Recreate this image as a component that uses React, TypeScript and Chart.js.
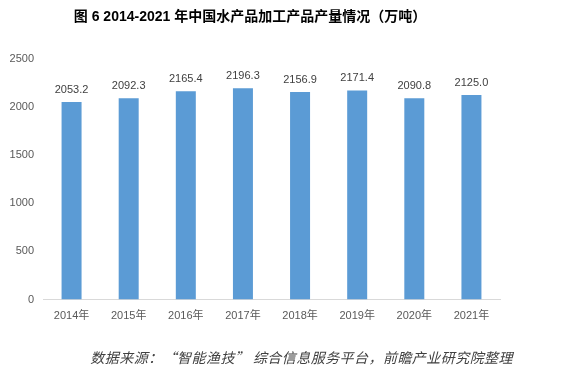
import React, { useEffect, useRef } from "react";
import { Chart, registerables } from "chart.js";

Chart.register(...registerables);

const categories = ["2014年", "2015年", "2016年", "2017年", "2018年", "2019年", "2020年", "2021年"];
const production = [2053.2, 2092.3, 2165.4, 2196.3, 2156.9, 2171.4, 2090.8, 2125.0];
const yTicks = [0, 500, 1000, 1500, 2000, 2500];
const titleText = "图 6 2014-2021 年中国水产品加工产品产量情况（万吨）";
const sourceText = "数据来源：“智能渔技” 综合信息服务平台，前瞻产业研究院整理";

const LATIN = "'Liberation Sans', Arial, 'Noto Sans CJK SC', sans-serif";

const extrasPlugin = {
  id: "extras",
  afterDatasetsDraw(chart: any) {
    const ctx = chart.ctx;
    const meta = chart.getDatasetMeta(0);
    ctx.save();
    ctx.fillStyle = "#404040";
    ctx.font = `11px ${LATIN}`;
    ctx.textAlign = "center";
    ctx.textBaseline = "bottom";
    meta.data.forEach((bar: any, i: number) => {
      ctx.fillText(production[i].toFixed(1), bar.x, bar.y - 7);
    });
    ctx.fillStyle = "#000000";
    ctx.font = `bold 14px ${LATIN}`;
    ctx.textAlign = "center";
    ctx.textBaseline = "middle";
    ctx.fillText(titleText, 250, 17);
    ctx.fillStyle = "#404040";
    ctx.font = `italic 14px 'Noto Sans CJK SC', sans-serif`;
    ctx.textAlign = "right";
    ctx.textBaseline = "middle";
    try {
      (ctx as any).letterSpacing = "0.45px";
    } catch (e) {}
    ctx.fillText(sourceText, 513, 358);
    ctx.restore();
  },
};

export default function App() {
  const ref = useRef<HTMLCanvasElement>(null);
  useEffect(() => {
    document.body.style.margin = "0";
    const chart = new Chart(ref.current!, {
      type: "bar",
      data: {
        labels: categories,
        datasets: [
          {
            data: production,
            backgroundColor: "#5B9BD5",
            barPercentage: 0.35,
            categoryPercentage: 1,
          },
        ],
      },
      options: {
        animation: false,
        responsive: false,
        layout: { padding: { left: 0, right: 64, top: 59, bottom: 0 } },
        plugins: { legend: { display: false }, tooltip: { enabled: false }, title: { display: false } },
        scales: {
          x: {
            grid: { display: false, drawTicks: false },
            border: { display: true, color: "#D9D9D9", width: 1 },
            ticks: { color: "#595959", font: { size: 11, family: LATIN }, padding: 10 },
            afterFit: (s: any) => {
              s.height = 78.5;
            },
          },
          y: {
            min: 0,
            max: 2500,
            afterBuildTicks: (s: any) => {
              s.ticks = yTicks.map((v) => ({ value: v }));
            },
            grid: { display: false, drawTicks: false },
            border: { display: false },
            ticks: {
              color: "#595959",
              font: { size: 11, family: LATIN },
              padding: 9,
              callback: (v: any) => String(v),
            },
            afterFit: (s: any) => {
              s.width = 43;
            },
          },
        },
      },
      plugins: [extrasPlugin],
    });
    return () => chart.destroy();
  }, []);
  return (
    <div style={{ width: 564, height: 378, background: "#fff" }}>
      <canvas ref={ref} width={564} height={378} />
    </div>
  );
}
